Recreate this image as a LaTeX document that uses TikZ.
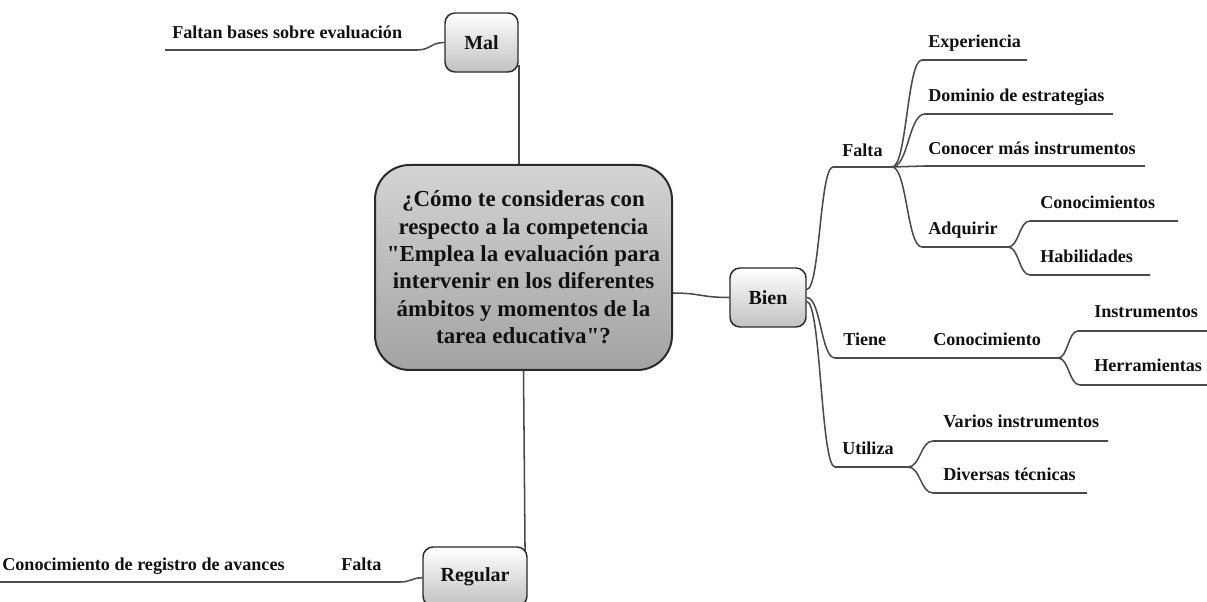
\documentclass[tikz,border=0pt]{standalone}
\usepackage{fontspec}
\setmainfont{Liberation Serif}[Ligatures=TeXOff]
\usetikzlibrary{calc,backgrounds}
\definecolor{linec}{HTML}{4A4A4A}
\definecolor{boxc}{HTML}{2A2A2A}
\definecolor{txtc}{HTML}{111111}
\begin{document}
\begin{tikzpicture}[x=0.75pt,y=-0.75pt,
  conn/.style={draw=linec, line width=1.15pt},
  br/.style={to path={let \p1=(\tikztostart), \p2=(\tikztotarget) in .. controls ({(\x1+\x2)/2},\y1) and ({(\x1+\x2)/2},\y2) .. (\tikztotarget) \tikztonodes}},
  lbl/.style={anchor=base west, inner sep=0pt, text=txtc, font=\fontsize{13.6}{16}\selectfont\bfseries},
  topic/.style={draw=boxc, line width=1.1pt, rounded corners=7.5pt, top color=white, bottom color=black!24, text=txtc, font=\fontsize{15}{18}\selectfont\bfseries, inner sep=0pt, minimum height=44.25pt},
  central/.style={draw=boxc, line width=1.5pt, rounded corners=26pt, top color=black!17, bottom color=black!36, text=txtc, align=center, font=\fontsize{17.2}{20.5}\selectfont\bfseries, inner sep=0pt, minimum width=222.75pt, minimum height=153.75pt}
  ]
\useasboundingbox (0,0) rectangle (1207,602);
\clip (0,0) rectangle (1207,602);

% topic nodes
\node[central] (q) at (523.5,267.5) {¿Cómo te consideras con\\respecto a la competencia\\"Emplea la evaluación para\\intervenir en los diferentes\\ámbitos y momentos de la\\tarea educativa"?};
\node[topic, minimum width=54.75pt] (mal) at (481.5,42.5) {Mal};
\node[topic, minimum width=57pt] (bien) at (768,297.5) {Bien};
\node[topic, minimum width=78pt] (regular) at (475,576.5) {Regular};

% labels
\node[lbl] (lfaltan) at (172,39) {Faltan bases sobre evaluación};
\node[lbl] (lfalta) at (842,157) {Falta};
\node[lbl] (lexp) at (928,48) {Experiencia};
\node[lbl] (ldom) at (928,102) {Dominio de estrategias};
\node[lbl] (lcon) at (928,155) {Conocer más instrumentos};
\node[lbl] (ladq) at (928,235) {Adquirir};
\node[lbl] (lcms) at (1040,209) {Conocimientos};
\node[lbl] (lhab) at (1040,263) {Habilidades};
\node[lbl] (ltiene) at (843,346) {Tiene};
\node[lbl] (lconoc) at (933,346) {Conocimiento};
\node[lbl] (linst) at (1094,318) {Instrumentos};
\node[lbl] (lherr) at (1094,372) {Herramientas};
\node[lbl] (luti) at (842,454) {Utiliza};
\node[lbl] (lvar) at (943,427) {Varios instrumentos};
\node[lbl] (ldiv) at (943,480) {Diversas técnicas};
\node[lbl] (lreg) at (2,570) {Conocimiento de registro de avances};
\node[lbl] (lfaltar) at (341,570) {Falta};

% junction coordinates
\coordinate (qb) at (672,293);
\coordinate (malL) at (417,50);   \coordinate (malE) at (165,50);
\coordinate (fA) at (833,167);    \coordinate (fB) at (892,167);
\coordinate (expA) at (922,60);   \coordinate (expB) at (1027,60);
\coordinate (domA) at (925,114);  \coordinate (domB) at (1113,114);
\coordinate (conA) at (925,166);  \coordinate (conB) at (1145,166);
\coordinate (adqA) at (922,247);  \coordinate (adqB) at (1008,247);
\coordinate (cmsA) at (1030,221); \coordinate (cmsB) at (1178,221);
\coordinate (habA) at (1030,275); \coordinate (habB) at (1150,275);
\coordinate (tA) at (835,358);    \coordinate (tB) at (928,358);
\coordinate (cB) at (1058,358);
\coordinate (insA) at (1078,331); \coordinate (insB) at (1212,331);
\coordinate (herA) at (1080,385); \coordinate (herB) at (1212,385);
\coordinate (uA) at (835,467);    \coordinate (uB) at (908,467);
\coordinate (varA) at (933,441);  \coordinate (varB) at (1108,441);
\coordinate (divA) at (933,493);  \coordinate (divB) at (1087,493);
\coordinate (regL) at (400,582);  \coordinate (regE) at (-5,582);

\begin{scope}[on background layer]
\fill[white] (-5,-5) rectangle (1212,607);
% central connections
\draw[conn] ([yshift=6pt]mal.south east) -- (mal.south east |- q.north);
\draw[conn] (q.south) -- ([xshift=-2pt,yshift=-5pt]regular.north east);
\draw[conn] (qb) to[br] (bien.west);
% Mal
\draw[conn] (mal.west) to[br] (malL) -- (malE);
% Regular
\draw[conn] ([yshift=-1pt]regular.west) to[br] (regL) -- (regE);
% Bien branches
\draw[conn] ([yshift=6pt]bien.east) to[br] (fA) -- (fB);
\draw[conn] (fB) to[br] (expA) -- (expB);
\draw[conn] (fB) to[br] (domA) -- (domB);
\draw[conn] (fB) to[br] (conA) -- (conB);
\draw[conn] (fB) to[br] (adqA) -- (adqB);
\draw[conn] (adqB) to[br] (cmsA) -- (cmsB);
\draw[conn] (adqB) to[br] (habA) -- (habB);
\draw[conn] (bien.east) to[br] (tA) -- (tB) -- (cB);
\draw[conn] (cB) to[br] (insA) -- (insB);
\draw[conn] (cB) to[br] (herA) -- (herB);
\draw[conn] ([yshift=-3pt]bien.east) to[br] (uA) -- (uB);
\draw[conn] (uB) to[br] (varA) -- (varB);
\draw[conn] (uB) to[br] (divA) -- (divB);
\end{scope}
\end{tikzpicture}
\end{document}
